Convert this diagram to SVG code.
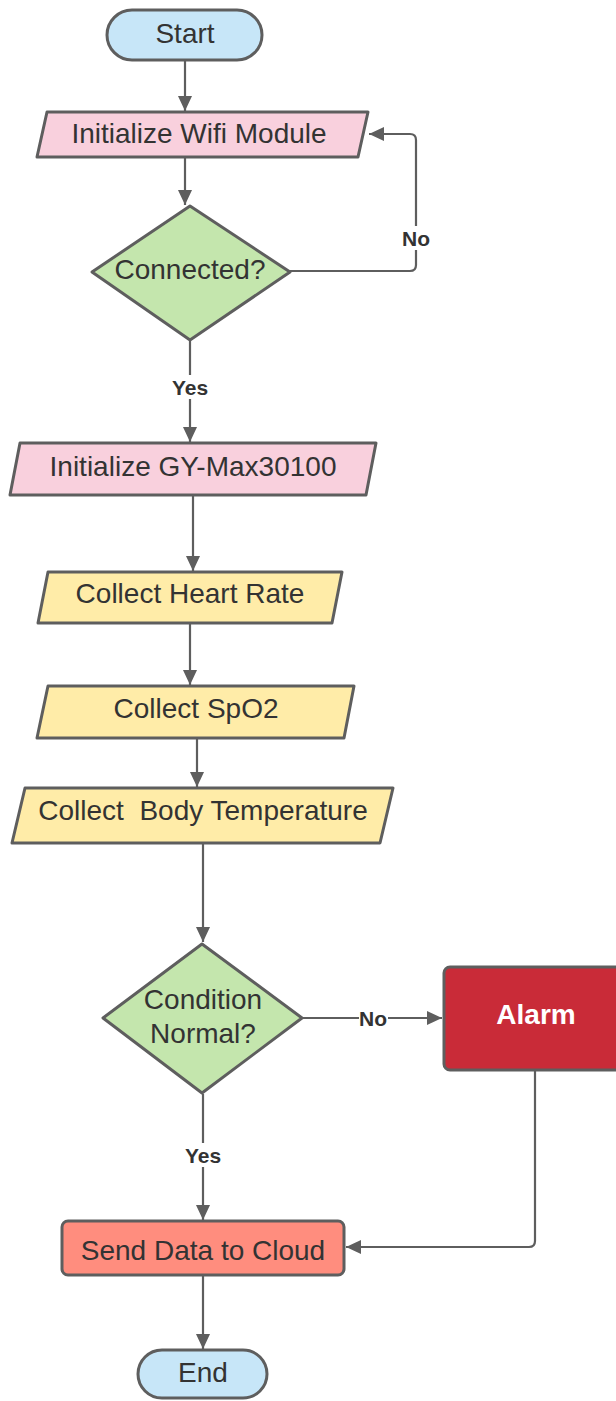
<svg xmlns="http://www.w3.org/2000/svg" width="616" height="1401" viewBox="0 0 616 1401">
<defs>
<marker id="arr" markerUnits="userSpaceOnUse" markerWidth="16" markerHeight="14" refX="15" refY="7" orient="auto">
<path d="M0,0 L15,7 L0,14 z" fill="#5e5e5e"/>
</marker>
<style>
.n{stroke:#5e5e5e;stroke-width:3;stroke-linejoin:round}
.term{fill:#c7e6f8}
.pink{fill:#f9d0dd}
.yel{fill:#ffeca8}
.grn{fill:#c4e6ad}
.red{fill:#c92b38}
.sal{fill:#ff8d7e}
.t{font-family:"Liberation Sans",Arial,sans-serif;font-size:28px;fill:#333333;text-anchor:middle;dominant-baseline:central}
.tw{font-family:"Liberation Sans",Arial,sans-serif;font-size:28px;font-weight:bold;fill:#ffffff;text-anchor:middle;dominant-baseline:central}
.c{fill:none;stroke:#5e5e5e;stroke-width:2.2}
.lb{font-family:"Liberation Sans",Arial,sans-serif;font-size:21px;font-weight:bold;fill:#333333;text-anchor:middle;dominant-baseline:central}
</style>
</defs>
<rect width="616" height="1401" fill="#ffffff"/>
<g id="connectors">
<path class="c" d="M185 61 V111" marker-end="url(#arr)"/>
<path class="c" d="M185 158 V205" marker-end="url(#arr)"/>
<path class="c" d="M290 271 H410 Q416 271 416 265 V140 Q416 134 410 134 H369" marker-end="url(#arr)"/>
<path class="c" d="M190 341 V442" marker-end="url(#arr)"/>
<path class="c" d="M193 496 V571" marker-end="url(#arr)"/>
<path class="c" d="M190 624 V685" marker-end="url(#arr)"/>
<path class="c" d="M197 739 V787" marker-end="url(#arr)"/>
<path class="c" d="M203 844 V942" marker-end="url(#arr)"/>
<path class="c" d="M303 1018 H442" marker-end="url(#arr)"/>
<path class="c" d="M203 1094 V1220" marker-end="url(#arr)"/>
<path class="c" d="M535 1071 V1241 Q535 1247 529 1247 H346" marker-end="url(#arr)"/>
<path class="c" d="M203 1276 V1349" marker-end="url(#arr)"/>
<rect x="400" y="226" width="32" height="24" fill="#ffffff"/>
<text class="lb" x="416" y="238">No</text>
<rect x="168" y="375" width="44" height="24" fill="#ffffff"/>
<text class="lb" x="190" y="387">Yes</text>
<rect x="359" y="1006" width="29" height="24" fill="#ffffff"/>
<text class="lb" x="373" y="1018">No</text>
<rect x="181" y="1143" width="44" height="24" fill="#ffffff"/>
<text class="lb" x="203" y="1155">Yes</text>
</g>
<g id="start">
<rect class="n term" x="107" y="10" width="155" height="50" rx="25"/>
<text class="t" x="185" y="33">Start</text>
</g>
<g id="wifi">
<polygon class="n pink" points="47,112 368,112 358,157 37,157"/>
<text class="t" x="199" y="133">Initialize Wifi Module</text>
</g>
<g id="connected">
<polygon class="n grn" points="190,206 290,272 190,340 92,272"/>
<text class="t" x="190" y="269">Connected?</text>
</g>
<g id="gy">
<polygon class="n pink" points="20,443 376,443 366,495 10,495"/>
<text class="t" x="193" y="466">Initialize GY-Max30100</text>
</g>
<g id="heart">
<polygon class="n yel" points="48,572 342,572 332,623 38,623"/>
<text class="t" x="190" y="593">Collect Heart Rate</text>
</g>
<g id="spo2">
<polygon class="n yel" points="48,686 354,686 344,738 37,738"/>
<text class="t" x="196" y="708">Collect SpO2</text>
</g>
<g id="body">
<polygon class="n yel" points="25,788 393,788 380,843 12,843"/>
<text class="t" x="203" y="810" xml:space="preserve">Collect  Body Temperature</text>
</g>
<g id="condition">
<polygon class="n grn" points="202,944 302,1018 202,1093 103,1018"/>
<text class="t" x="203" y="999">Condition</text>
<text class="t" x="203" y="1033">Normal?</text>
</g>
<g id="alarm">
<rect class="n red" x="444" y="967" width="190" height="103" rx="6"/>
<text class="tw" x="536" y="1014">Alarm</text>
</g>
<g id="send">
<rect class="n sal" x="62" y="1221" width="282" height="54" rx="6"/>
<text class="t" x="203" y="1250">Send Data to Cloud</text>
</g>
<g id="end">
<rect class="n term" x="138" y="1350" width="129" height="48" rx="24"/>
<text class="t" x="203" y="1372">End</text>
</g>
</svg>
